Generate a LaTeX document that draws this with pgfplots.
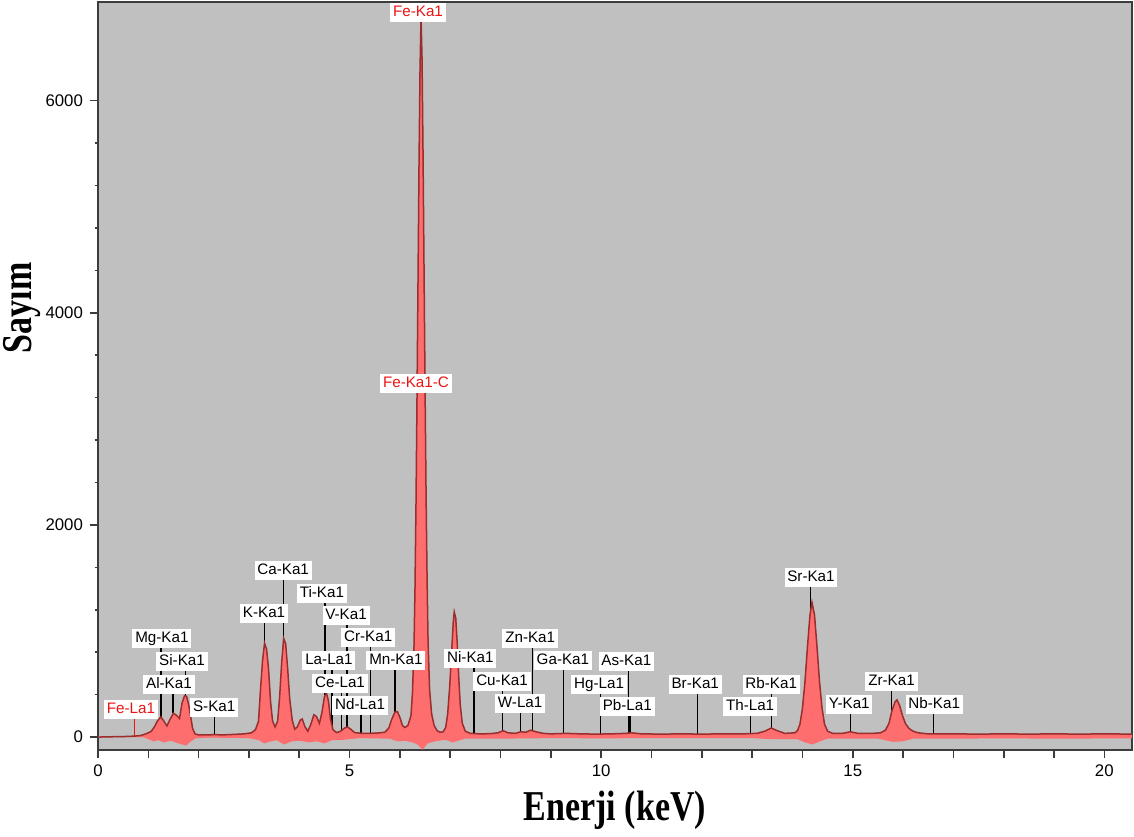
\documentclass[border=0pt]{standalone}
\usepackage{pgfplots}
\pgfplotsset{compat=1.18}
\usepackage{graphicx}
\usepackage{fontspec}
\newfontfamily\lsans{Liberation Sans}
\newfontfamily\lserif{Liberation Serif}
\definecolor{bg}{RGB}{192,192,192}
\definecolor{fillred}{RGB}{255,110,110}
\definecolor{darkred}{RGB}{155,45,45}
\definecolor{framegray}{RGB}{60,60,60}
\definecolor{labred}{RGB}{235,20,20}

\pgfplotstableread{
x y
0.00 0
0.20 2
0.40 4
0.60 6
0.75 10
0.85 15
0.92 25
1.00 40
1.06 55
1.12 95
1.18 150
1.25 190
1.31 150
1.37 105
1.43 165
1.50 225
1.56 205
1.62 175
1.67 320
1.72 390
1.76 385
1.80 310
1.84 200
1.88 80
1.93 30
2.00 20
2.20 20
2.31 24
2.45 20
2.70 25
2.90 30
3.05 40
3.13 70
3.19 150
3.23 450
3.27 720
3.31 885
3.35 830
3.39 640
3.43 330
3.47 150
3.52 95
3.57 150
3.61 380
3.65 700
3.69 930
3.73 880
3.77 640
3.81 360
3.86 160
3.91 75
3.96 95
4.02 160
4.06 170
4.11 100
4.17 55
4.23 120
4.29 210
4.34 195
4.40 130
4.45 230
4.50 380
4.54 415
4.58 340
4.62 170
4.67 70
4.74 42
4.82 55
4.90 85
4.96 95
5.02 75
5.10 42
5.25 35
5.40 35
5.55 38
5.70 45
5.78 85
5.84 170
5.90 235
5.95 240
6.00 185
6.05 110
6.10 90
6.16 110
6.22 200
6.25 420
6.28 850
6.30 1400
6.32 2200
6.34 3200
6.36 4300
6.38 5400
6.40 6300
6.42 6780
6.44 6400
6.46 5500
6.48 4400
6.50 3300
6.52 2300
6.54 1500
6.56 900
6.59 450
6.63 220
6.68 110
6.74 60
6.80 45
6.86 50
6.91 90
6.95 220
6.99 480
7.03 820
7.06 1080
7.08 1180
7.11 1120
7.14 880
7.17 560
7.20 300
7.24 130
7.30 55
7.40 35
7.60 30
7.80 32
7.95 40
8.05 60
8.15 40
8.30 35
8.40 50
8.50 45
8.60 65
8.70 50
8.85 35
9.00 30
9.30 35
9.60 30
9.90 28
10.20 30
10.50 35
10.60 40
10.80 30
11.20 28
11.60 30
12.00 28
12.40 30
12.80 30
13.10 35
13.25 55
13.38 85
13.50 60
13.65 35
13.85 40
13.90 60
13.95 120
14.00 270
14.05 520
14.10 850
14.15 1150
14.19 1270
14.24 1150
14.29 850
14.34 520
14.39 270
14.44 120
14.50 55
14.60 35
14.80 35
14.95 50
15.10 35
15.40 35
15.55 40
15.65 65
15.72 130
15.78 250
15.84 330
15.88 350
15.93 300
15.99 200
16.05 125
16.12 80
16.20 55
16.30 40
16.50 30
17.00 30
17.50 28
18.00 30
18.50 28
19.00 30
19.50 28
20.00 30
20.55 28
}\spectrum

\pgfplotstableread{
x y
0.00 0
0.90 0
1.00 -20
1.10 -40
1.20 -30
1.30 -50
1.45 -35
1.60 -60
1.75 -80
1.85 -40
1.95 -10
2.20 -5
3.00 -10
3.20 -30
3.30 -60
3.40 -45
3.55 -30
3.70 -70
3.85 -40
4.00 -35
4.20 -50
4.35 -40
4.50 -60
4.65 -30
4.90 -25
5.20 -10
5.80 -15
5.95 -40
6.10 -35
6.25 -50
6.35 -70
6.45 -120
6.55 -60
6.70 -40
6.90 -25
7.05 -50
7.15 -35
7.30 -15
8.00 -15
9.00 -10
10.00 -12
11.00 -10
12.00 -10
13.00 -10
13.40 -20
13.90 -20
14.05 -50
14.20 -70
14.35 -40
14.50 -15
15.50 -15
15.80 -45
16.00 -40
16.20 -15
17.00 -15
18.00 -12
19.00 -15
20.55 -12
}\negnoise

\pgfplotstableread{
x y
1.25 190
1.25 932
nan nan
1.49 225
1.49 499
nan nan
1.74 390
1.74 716
nan nan
2.31 24
2.31 283
nan nan
3.31 885
3.31 1168
nan nan
3.69 930
3.69 1573
nan nan
4.51 400
4.51 1356
nan nan
4.65 100
4.65 725
nan nan
4.84 60
4.84 509
nan nan
4.95 95
4.95 1149
nan nan
5.23 35
5.23 301
nan nan
5.41 35
5.41 942
nan nan
5.90 235
5.90 725
nan nan
7.47 33
7.47 744
nan nan
8.04 55
8.04 527
nan nan
8.40 50
8.40 320
nan nan
8.63 60
8.63 932
nan nan
9.25 33
9.25 725
nan nan
9.99 28
9.99 499
nan nan
10.54 35
10.54 716
nan nan
10.57 35
10.57 292
nan nan
11.92 28
11.92 499
nan nan
12.97 30
12.97 292
nan nan
13.39 85
13.39 499
nan nan
14.16 1200
14.16 1507
nan nan
14.96 50
14.96 311
nan nan
15.77 240
15.77 527
nan nan
16.61 30
16.61 311
}\marklines

\pgfplotstableread{
x y
0.72 0
0.72 200
nan nan
6.41 6000
6.41 6829
}\redlines

\begin{document}
\begin{tikzpicture}[
  lab/.style={fill=white, inner xsep=1.4pt, inner ysep=1.2pt,
    text height=5.6pt, text depth=1.5pt,
    font=\lsans\fontsize{7.6}{8.5}\selectfont}]
\begin{axis}[
  at={(0,0)}, anchor=south west,
  scale only axis, width=517pt, height=374pt,
  xmin=0, xmax=20.55, ymin=-122, ymax=6930,
  axis background/.style={fill=bg},
  axis line style={framegray, line width=1pt},
  xtick={0,...,20},
  xticklabels={0,,,,,5,,,,,10,,,,,15,,,,,20},
  ytick={0,2000,4000,6000}, minor y tick num=4,
  tick align=outside, major tick length=4pt, minor tick length=1.7pt,
  tick style={framegray, line width=0.8pt},
  xtick pos=bottom, ytick pos=left,
  scaled y ticks=false,
  /pgf/number format/1000 sep={},
  /pgf/number format/assume math mode=true,
  ticklabel style={font=\lsans\fontsize{8.4}{10}\selectfont},
  clip=false,
  xlabel={\lserif\bfseries\fontsize{17}{20}\selectfont\scalebox{1}[1.25]{Enerji (keV)}},
  xlabel style={at={(axis description cs:0.5,-0.0802)}, anchor=center},
  ylabel={\lserif\bfseries\fontsize{17}{20}\selectfont\scalebox{1}[1.25]{Sayım}},
  ylabel style={at={(axis description cs:-0.0735,0.591)}, anchor=center},
]
\addplot[black, line width=0.7pt, unbounded coords=jump] table[x=x,y=y] {\marklines};
\addplot[labred, line width=0.7pt, unbounded coords=jump] table[x=x,y=y] {\redlines};
\addplot[fill=fillred, draw=none] table[x=x,y=y] {\spectrum} \closedcycle;
\addplot[fill=fillred, draw=none] table[x=x,y=y] {\negnoise} \closedcycle;
\addplot[darkred, line width=0.75pt] table[x=x,y=y] {\spectrum};

\node[lab, text=labred] at (axis cs:0.656,264) {Fe-La1};
\node[lab] at (axis cs:1.27,932) {Mg-Ka1};
\node[lab] at (axis cs:1.67,716) {Si-Ka1};
\node[lab] at (axis cs:1.41,499) {Al-Ka1};
\node[lab] at (axis cs:2.31,283) {S-Ka1};
\node[lab] at (axis cs:3.30,1168) {K-Ka1};
\node[lab] at (axis cs:3.68,1573) {Ca-Ka1};
\node[lab] at (axis cs:4.45,1356) {Ti-Ka1};
\node[lab] at (axis cs:4.93,1149) {V-Ka1};
\node[lab] at (axis cs:5.37,942) {Cr-Ka1};
\node[lab] at (axis cs:4.59,725) {La-La1};
\node[lab] at (axis cs:5.92,725) {Mn-Ka1};
\node[lab] at (axis cs:4.81,509) {Ce-La1};
\node[lab] at (axis cs:5.21,301) {Nd-La1};
\node[lab, text=labred] at (axis cs:6.36,6829) {Fe-Ka1};
\node[lab, text=labred] at (axis cs:6.32,3334) {Fe-Ka1-C};
\node[lab] at (axis cs:7.40,744) {Ni-Ka1};
\node[lab] at (axis cs:8.03,527) {Cu-Ka1};
\node[lab] at (axis cs:8.39,320) {W-La1};
\node[lab] at (axis cs:8.59,932) {Zn-Ka1};
\node[lab] at (axis cs:9.24,725) {Ga-Ka1};
\node[lab] at (axis cs:9.96,499) {Hg-La1};
\node[lab] at (axis cs:10.50,716) {As-Ka1};
\node[lab] at (axis cs:10.52,292) {Pb-La1};
\node[lab] at (axis cs:11.87,499) {Br-Ka1};
\node[lab] at (axis cs:12.96,292) {Th-La1};
\node[lab] at (axis cs:13.38,499) {Rb-Ka1};
\node[lab] at (axis cs:14.17,1507) {Sr-Ka1};
\node[lab] at (axis cs:14.93,311) {Y-Ka1};
\node[lab] at (axis cs:15.77,527) {Zr-Ka1};
\node[lab] at (axis cs:16.62,311) {Nb-Ka1};
\end{axis}
\pgfresetboundingbox
\path (-49pt,-43pt) rectangle (518pt,375pt);
\end{tikzpicture}
\end{document}
